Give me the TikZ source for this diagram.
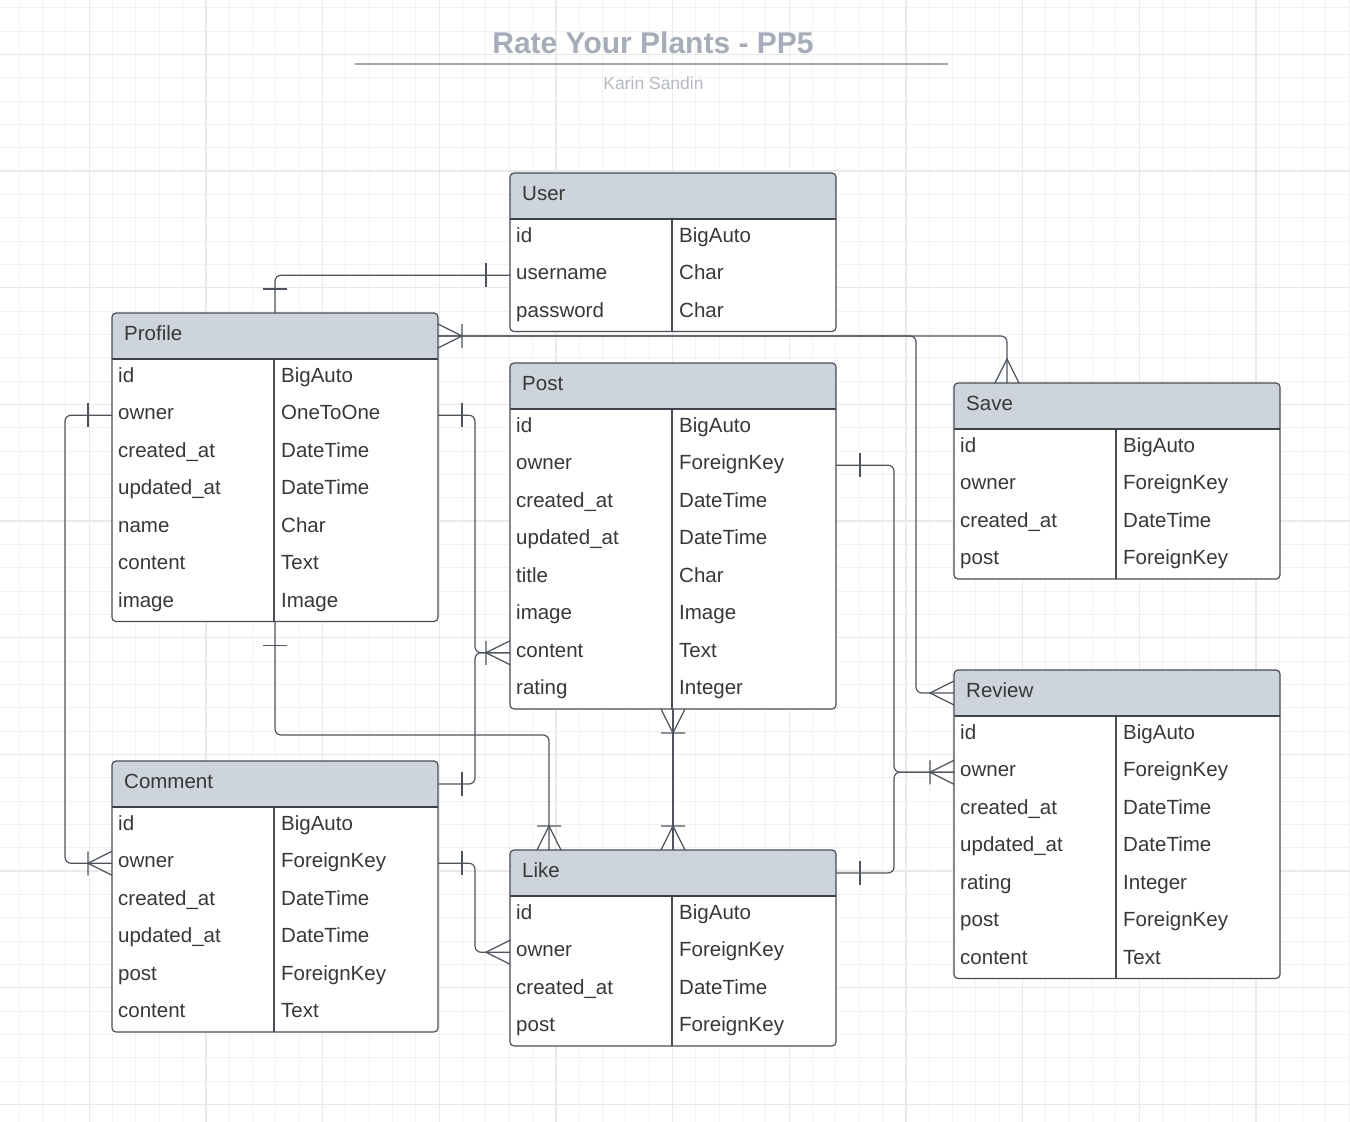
\documentclass[tikz,border=0pt]{standalone}
\usepackage{fontspec}
\setmainfont{Liberation Sans}
\usepackage{tikz}
\usetikzlibrary{positioning,calc}

\definecolor{hdrfill}{RGB}{206,212,220}
\definecolor{tblborder}{RGB}{72,77,86}
\definecolor{txtcol}{RGB}{56,56,56}
\definecolor{relcol}{RGB}{78,84,94}
\definecolor{titlecol}{RGB}{166,172,184}
\definecolor{subcol}{RGB}{180,185,194}
\definecolor{rulecol}{RGB}{160,166,178}
\definecolor{gridminor}{RGB}{242,242,242}
\definecolor{gridmajor}{RGB}{233,233,233}

\tikzset{
  tblhead/.style={minimum width=326pt, minimum height=46pt, inner sep=0pt, outer sep=0pt},
  tblrow/.style={minimum width=326pt, minimum height=37.5pt, inner sep=0pt, outer sep=0pt},
  tblline/.style={draw=tblborder, line width=1.2pt},
  hdrline/.style={draw=tblborder!85!black, line width=2pt},
  fieldtxt/.style={anchor=base west, inner sep=0pt, text=txtcol, font=\fontsize{20.5}{24}\selectfont},
  relline/.style={draw=relcol, line width=1.2pt, rounded corners=6pt},
  onebar/.pic={\draw[relline] (24,-12) -- (24,12);},
  crowfoot/.pic={\draw[relline, sharp corners] (0,-12) -- (24,0) -- (0,12);},
  crowbar/.pic={\draw[relline, sharp corners] (0,-12) -- (24,0) -- (0,12) (24,-12) -- (24,12);},
}

% name, x, y, rows, title, fields
\newcommand{\ertable}[6]{%
  \fill[white, rounded corners=4pt] (#2,#3) rectangle ++(326,{46+37.5*#4});
  \fill[hdrfill, rounded corners=4pt] (#2,#3+46) -- (#2,#3) -- (#2+326,#3) -- (#2+326,#3+46);
  \node[tblhead, anchor=north west, alias=#1-0] (#1) at (#2,#3) {};
  \node[fieldtxt] (#1-name) at ([xshift=12pt,yshift=-4pt]#1.west) {#5};
  \foreach \fk/\ft [count=\i] in {#6} {
    \pgfmathtruncatemacro\j{\i-1}
    \node[tblrow, below=0pt of #1-\j] (#1-\i) {};
    \node[fieldtxt] (#1-\i-k) at ([xshift=6pt,yshift=-4.5pt]#1-\i.west) {\fk};
    \node[fieldtxt] (#1-\i-t) at ([xshift=169pt,yshift=-4.5pt]#1-\i.west) {\ft};
  }
  \draw[tblline] (#2+162,#3+46) -- ++(0,{37.5*#4});
  \draw[hdrline] (#1.south west) -- (#1.south east);
  \draw[tblline, rounded corners=4pt] (#2,#3) rectangle ++(326,{46+37.5*#4});
}

\begin{document}
\begin{tikzpicture}[x=1pt,y=-1pt]
\useasboundingbox (0,0) rectangle (1350,1122);
\fill[white] (0,0) rectangle (1350,1122);

% grid
\foreach \n in {0,...,57}
  \draw[gridminor, line width=1pt] ({19.33+23.333*\n},0) -- ++(0,1122);
\foreach \n in {0,...,47}
  \draw[gridminor, line width=1pt] (0,{7.67+23.333*\n}) -- ++(1350,0);
\foreach \n in {0,...,10}
  \draw[gridmajor, line width=1.1pt] ({89.33+116.667*\n},0) -- ++(0,1122);
\foreach \n in {0,...,9}
  \draw[gridmajor, line width=1.1pt] (0,{54.33+116.667*\n}) -- ++(1350,0);

% title
\node[anchor=base, inner sep=0pt, text=titlecol, font=\bfseries\fontsize{30}{34}\selectfont] (title) at (653,53) {Rate Your Plants - PP5};
\draw[rulecol, line width=2pt] (355,64) -- (948,64);
\node[anchor=base, inner sep=0pt, text=subcol, font=\fontsize{17.5}{20}\selectfont] (author) at (653.5,89) {Karin Sandin};

% tables
\ertable{user}{510}{173}{3}{User}{id/BigAuto, username/Char, password/Char}
\ertable{profile}{112}{313}{7}{Profile}{id/BigAuto, owner/OneToOne, created\_at/DateTime, updated\_at/DateTime, name/Char, content/Text, image/Image}
\ertable{post}{510}{363}{8}{Post}{id/BigAuto, owner/ForeignKey, created\_at/DateTime, updated\_at/DateTime, title/Char, image/Image, content/Text, rating/Integer}
\ertable{save}{954}{383}{4}{Save}{id/BigAuto, owner/ForeignKey, created\_at/DateTime, post/ForeignKey}
\ertable{review}{954}{670}{7}{Review}{id/BigAuto, owner/ForeignKey, created\_at/DateTime, updated\_at/DateTime, rating/Integer, post/ForeignKey, content/Text}
\ertable{comment}{112}{761}{6}{Comment}{id/BigAuto, owner/ForeignKey, created\_at/DateTime, updated\_at/DateTime, post/ForeignKey, content/Text}
\ertable{like}{510}{850}{4}{Like}{id/BigAuto, owner/ForeignKey, created\_at/DateTime, post/ForeignKey}

\coordinate (savein) at ([xshift=53pt]save.north west);
\coordinate (likein) at ([xshift=39pt]like.north west);

% relations
\draw[relline] (user-2.west) -| (profile.north);
\draw[relline] (profile.east) -| (savein);
\draw[relline] (profile.east) -| ([xshift=-38pt]review.west) -- (review.west);
\draw[relline] (profile-2.east) -| ([xshift=-35pt]post-7.west) -- (post-7.west);
\draw[relline] (comment.east) -| ([xshift=-35pt]post-7.west) -- (post-7.west);
\draw[relline] (profile-2.west) -| ([xshift=-47pt]comment-2.west) -- (comment-2.west);
\draw[relline] (profile-7.south) |- ([yshift=115pt]likein) -- (likein);
\draw[relline] (post-8.south) -- (like.north);
\draw[relline] (post-2.east) -| ([xshift=-60pt]review-2.west) -- (review-2.west);
\draw[relline] (like.east) -| ([xshift=-60pt]review-2.west) -- (review-2.west);
\draw[relline] (comment-2.east) -| ([xshift=-35pt]like-2.west) -- (like-2.west);

% ends
\pic[rotate=180] at (user-2.west) {onebar};
\pic[rotate=90] at (profile.north) {onebar};
\pic at (profile.east) {crowbar};
\pic[rotate=90] at (savein) {crowfoot};
\pic[rotate=180] at (review.west) {crowfoot};
\pic at (profile-2.east) {onebar};
\pic[rotate=180] at (post-7.west) {crowbar};
\pic at (comment.east) {onebar};
\pic[rotate=180] at (profile-2.west) {onebar};
\pic[rotate=180] at (comment-2.west) {crowbar};
\pic[rotate=-90] at (profile-7.south) {onebar};
\pic[rotate=90] at (likein) {crowbar};
\pic[rotate=-90] at (post-8.south) {crowbar};
\pic[rotate=90] at (like.north) {crowbar};
\pic at (post-2.east) {onebar};
\pic[rotate=180] at (review-2.west) {crowbar};
\pic at (like.east) {onebar};
\pic at (comment-2.east) {onebar};
\pic[rotate=180] at (like-2.west) {crowfoot};
\end{tikzpicture}
\end{document}
